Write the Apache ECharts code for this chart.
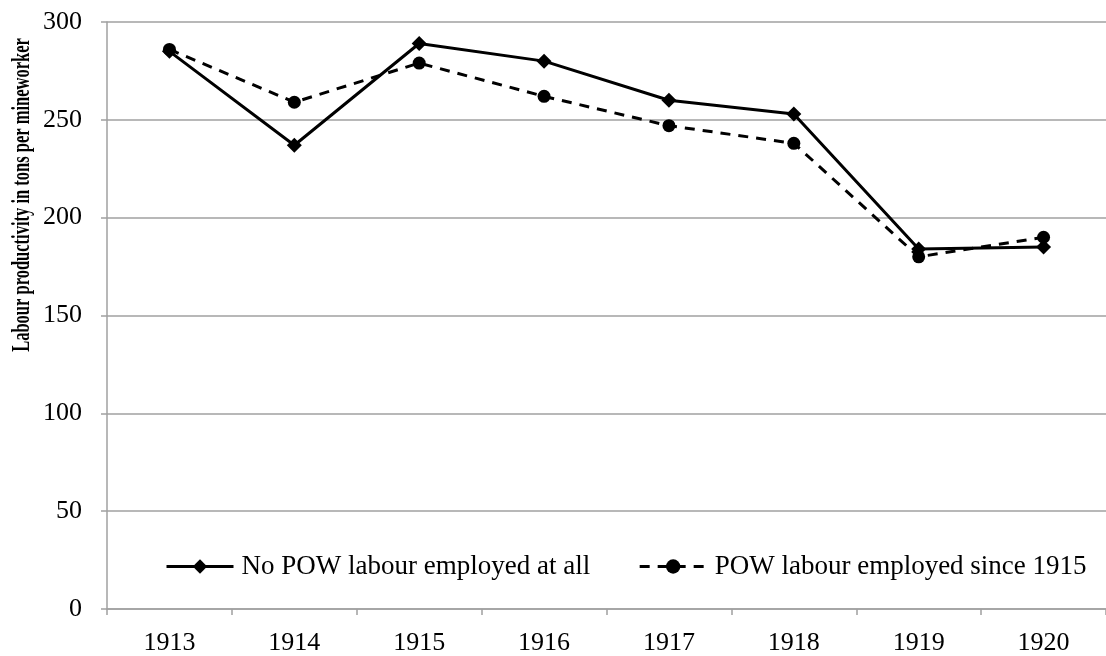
<!DOCTYPE html>
<html>
<head>
<meta charset="utf-8">
<script src="https://cdn.jsdelivr.net/npm/echarts@6/dist/echarts.min.js"></script>
<style>
  html, body { margin: 0; padding: 0; background: #fff; }
  #chart { width: 1106px; height: 656px; }
</style>
</head>
<body>
<div id="chart"></div>
<script>
// data
const years = ['1913', '1914', '1915', '1916', '1917', '1918', '1919', '1920'];
const noPow = [285, 237, 289, 280, 260, 253, 184, 185];
const withPow = [286, 259, 279, 262, 247, 238, 180, 190];
const seriesNames = ['No POW labour employed at all', 'POW labour employed since 1915'];

const chart = echarts.init(document.getElementById('chart'));
const font = 'Liberation Serif, Times New Roman, serif';
const grey = '#a0a0a0';

const option = {
    animation: false,
    textStyle: { fontFamily: font, color: '#000' },
    grid: { left: 107, top: 22, right: -9, bottom: 44, containLabel: false },
    legend: {
        left: 160,
        top: 548,
        itemWidth: 67,
        itemHeight: 18,
        itemGap: 48,
        lineStyle: { width: 3 },
        textStyle: { fontFamily: font, fontSize: 27, color: '#000', padding: [0, 0, 0, 3] },
        data: seriesNames
    },
    xAxis: {
        type: 'category',
        data: years,
        boundaryGap: true,
        axisLine: { lineStyle: { color: grey, width: 1.5 } },
        axisTick: { show: true, length: 6, lineStyle: { color: grey, width: 1.5 } },
        axisLabel: { fontFamily: font, fontSize: 26, color: '#000', margin: 21 }
    },
    yAxis: {
        type: 'value',
        min: 0,
        max: 300,
        interval: 50,
        axisLine: { show: true, lineStyle: { color: grey, width: 1.5 } },
        axisTick: { show: true, length: 6, lineStyle: { color: grey, width: 1.5 } },
        axisLabel: { fontFamily: font, fontSize: 26, color: '#000', margin: 25 },
        splitLine: { lineStyle: { color: grey, width: 1.5 } }
    },
    graphic: [{
        type: 'text',
        x: 23,
        y: 195,
        rotation: Math.PI / 2,
        scaleX: 0.66,
        style: {
            text: 'Labour productivity in tons per mineworker',
            font: 'bold 25px ' + font,
            fill: '#000',
            align: 'center',
            verticalAlign: 'middle'
        }
    }],
    series: [
        {
            name: seriesNames[0],
            type: 'line',
            data: noPow,
            symbol: 'diamond',
            symbolSize: 15,
            itemStyle: { color: '#000' },
            lineStyle: { color: '#000', width: 3 }
        },
        {
            name: seriesNames[1],
            type: 'line',
            data: withPow,
            symbol: 'circle',
            symbolSize: 13,
            itemStyle: { color: '#000' },
            lineStyle: { color: '#000', width: 3, type: [10, 8] }
        }
    ]
};

chart.setOption(option);
</script>
</body>
</html>
